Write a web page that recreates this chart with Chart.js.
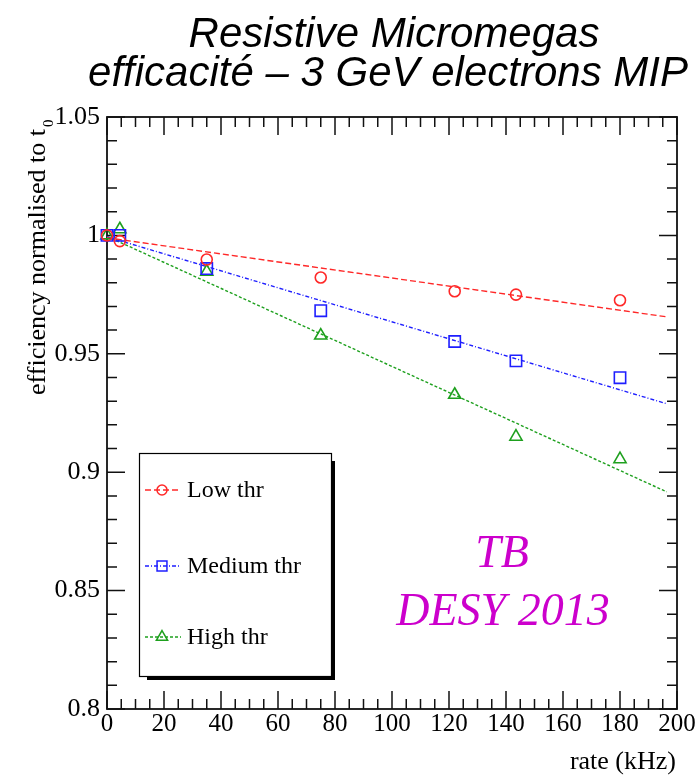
<!DOCTYPE html>
<html>
<head>
<meta charset="utf-8">
<title>Resistive Micromegas efficiency</title>
<script src="https://cdn.jsdelivr.net/npm/chart.js@4.4.0/dist/chart.umd.min.js"></script>
<style>
  body { margin: 0; background: #fff; }
  #wrap { width: 698px; height: 775px; }
</style>
</head>
<body>
<div id="wrap"><canvas id="effChart" width="698" height="775"></canvas></div>
<script>
// beam rate (kHz) for each run
const rates = [0, 4.5, 35, 75, 122, 143.5, 180];
// efficiency normalised to the first run, per threshold
const effLow = [1.0, 0.9976, 0.9898, 0.9822, 0.9764, 0.975, 0.9726];
const effMed = [1.0, 1.0, 0.986, 0.9682, 0.9552, 0.947, 0.9399];
const effHigh = [1.0, 1.0026, 0.9847, 0.9577, 0.9327, 0.915, 0.9055];

// linear fits, start and end of the fit range
const fitX = [0, 196.4];
const fitLow = [0.999, 0.9656];
const fitMed = [0.9994, 0.9289];
const fitHigh = [0.9996, 0.8917];

const xTicks = [0, 20, 40, 60, 80, 100, 120, 140, 160, 180, 200];
const yTicks = [0.8, 0.85, 0.9, 0.95, 1, 1.05];

const RED = 'rgb(255,40,40)';
const BLUE = 'rgb(30,30,255)';
const GREEN = 'rgb(30,160,30)';
const SERIF = "'Liberation Serif', 'Times New Roman', serif";

function pts(xs, ys) {
  return xs.map((x, i) => ({ x: x, y: ys[i] }));
}

function markerSet(label, ys, color, style, r) {
  return {
    label: label,
    data: pts(rates, ys),
    showLine: false,
    pointStyle: style,
    pointRadius: r,
    pointBorderWidth: 1.6,
    borderColor: color,
    backgroundColor: 'rgba(0,0,0,0)',
    clip: false
  };
}

function fitSet(ys, color, dash) {
  return {
    label: '',
    data: pts(fitX, ys),
    showLine: true,
    pointRadius: 0,
    borderColor: color,
    borderWidth: 1.4,
    borderDash: dash,
    clip: false
  };
}

const legendRows = [
  { y: 490, dash: [6, 3], r: 5 },
  { y: 566, dash: [4, 2, 1, 2], r: 7 },
  { y: 637, dash: [3, 2], r: 6.5 }
];

// ROOT style frame: ticks on all four sides, pointing inwards
const frameTicks = {
  id: 'frameTicks',
  beforeDatasetsDraw(chart) {
    const { ctx, chartArea: a, scales: { x, y } } = chart;
    ctx.save();
    ctx.strokeStyle = '#111';
    ctx.lineWidth = 1.5;
    ctx.beginPath();
    for (let v = 0; v <= 200; v += 5) {
      const px = x.getPixelForValue(v);
      const len = v % 20 === 0 ? 18 : 10;
      ctx.moveTo(px, a.bottom); ctx.lineTo(px, a.bottom - len);
      ctx.moveTo(px, a.top); ctx.lineTo(px, a.top + len);
    }
    for (let k = 0; k <= 25; k++) {
      const py = y.getPixelForValue(0.8 + k * 0.01);
      const len = k % 5 === 0 ? 18 : 10;
      ctx.moveTo(a.left, py); ctx.lineTo(a.left + len, py);
      ctx.moveTo(a.right, py); ctx.lineTo(a.right - len, py);
    }
    ctx.stroke();
    ctx.lineWidth = 1.8;
    ctx.strokeRect(a.left, a.top, a.right - a.left, a.bottom - a.top);
    ctx.restore();
  }
};

// titles, legend box and the TB / DESY label
const decorations = {
  id: 'decorations',
  afterDraw(chart) {
    const ctx = chart.ctx;
    ctx.save();

    ctx.fillStyle = '#000';
    ctx.font = "italic 42px 'Liberation Sans', Arial, sans-serif";
    ctx.textAlign = 'center';
    ctx.textBaseline = 'alphabetic';
    ctx.fillText('Resistive Micromegas', 394, 47);
    ctx.fillText('efficacité – 3 GeV electrons MIP', 388, 86);

    // axis titles
    ctx.font = '26px ' + SERIF;
    ctx.textAlign = 'right';
    ctx.fillText('rate (kHz)', 676, 769);

    ctx.save();
    ctx.translate(45, 0);
    ctx.rotate(-Math.PI / 2);
    ctx.textAlign = 'right';
    ctx.fillText('efficiency normalised to t', -129, 0);
    ctx.font = '15px ' + SERIF;
    ctx.textAlign = 'left';
    ctx.fillText('0', -127, 8);
    ctx.restore();

    // legend with drop shadow
    ctx.fillStyle = '#000';
    ctx.fillRect(147, 461, 188, 219);
    ctx.fillStyle = '#fff';
    ctx.fillRect(139, 453, 192, 223);
    ctx.strokeStyle = '#000';
    ctx.lineWidth = 1.2;
    ctx.strokeRect(139.5, 453.5, 192, 223);

    chart.data.datasets.slice(0, 3).forEach((ds, i) => {
      const row = legendRows[i];
      ctx.save();
      ctx.strokeStyle = ds.borderColor;
      ctx.lineWidth = 1.3;
      ctx.setLineDash(row.dash);
      ctx.beginPath();
      ctx.moveTo(145, row.y);
      ctx.lineTo(181, row.y);
      ctx.stroke();
      ctx.setLineDash([]);
      ctx.fillStyle = 'rgba(0,0,0,0)';
      ctx.lineWidth = 1.5;
      Chart.helpers.drawPoint(ctx, {
        pointStyle: ds.pointStyle,
        radius: row.r,
        borderWidth: 1.5
      }, 162, row.y);
      ctx.restore();
      ctx.fillStyle = '#000';
      ctx.font = '24px ' + SERIF;
      ctx.textAlign = 'left';
      ctx.textBaseline = 'middle';
      ctx.fillText(ds.label, 187, row.y + 1);
    });

    ctx.fillStyle = '#cc00cc';
    ctx.font = 'italic 46px ' + SERIF;
    ctx.textAlign = 'center';
    ctx.textBaseline = 'alphabetic';
    ctx.fillText('TB', 502, 567);
    ctx.fillText('DESY 2013', 503, 625);

    ctx.restore();
  }
};

const ctx = document.getElementById('effChart');
const effChart = new Chart(ctx, {
  type: 'scatter',
  data: {
    datasets: [
      markerSet('Low thr', effLow, RED, 'circle', 5.5),
      markerSet('Medium thr', effMed, BLUE, 'rect', 8),
      markerSet('High thr', effHigh, GREEN, 'triangle', 7),
      fitSet(fitLow, RED, [6, 3]),
      fitSet(fitMed, BLUE, [4, 2, 1, 2]),
      fitSet(fitHigh, GREEN, [3, 2])
    ]
  },
  options: {
    responsive: false,
    maintainAspectRatio: false,
    animation: false,
    layout: { padding: { top: 117, right: 21, bottom: 0, left: 0 } },
    plugins: {
      legend: { display: false },
      tooltip: { enabled: false }
    },
    scales: {
      x: {
        type: 'linear',
        min: 0,
        max: 200,
        afterBuildTicks: (s) => { s.ticks = xTicks.map(v => ({ value: v })); },
        afterFit: (s) => { s.height = 66; },
        grid: { display: false, drawTicks: false },
        border: { display: false },
        ticks: {
          autoSkip: false,
          maxRotation: 0,
          padding: 0,
          color: '#000',
          font: { family: SERIF, size: 25 },
          callback: (v) => String(v)
        }
      },
      y: {
        type: 'linear',
        min: 0.8,
        max: 1.05,
        afterBuildTicks: (s) => { s.ticks = yTicks.map(v => ({ value: v })); },
        afterFit: (s) => { s.width = 107; },
        grid: { display: false, drawTicks: false },
        border: { display: false },
        ticks: {
          autoSkip: false,
          padding: 7,
          color: '#000',
          font: { family: SERIF, size: 26 },
          callback: (v) => String(v)
        }
      }
    }
  },
  plugins: [frameTicks, decorations]
});
</script>
</body>
</html>
